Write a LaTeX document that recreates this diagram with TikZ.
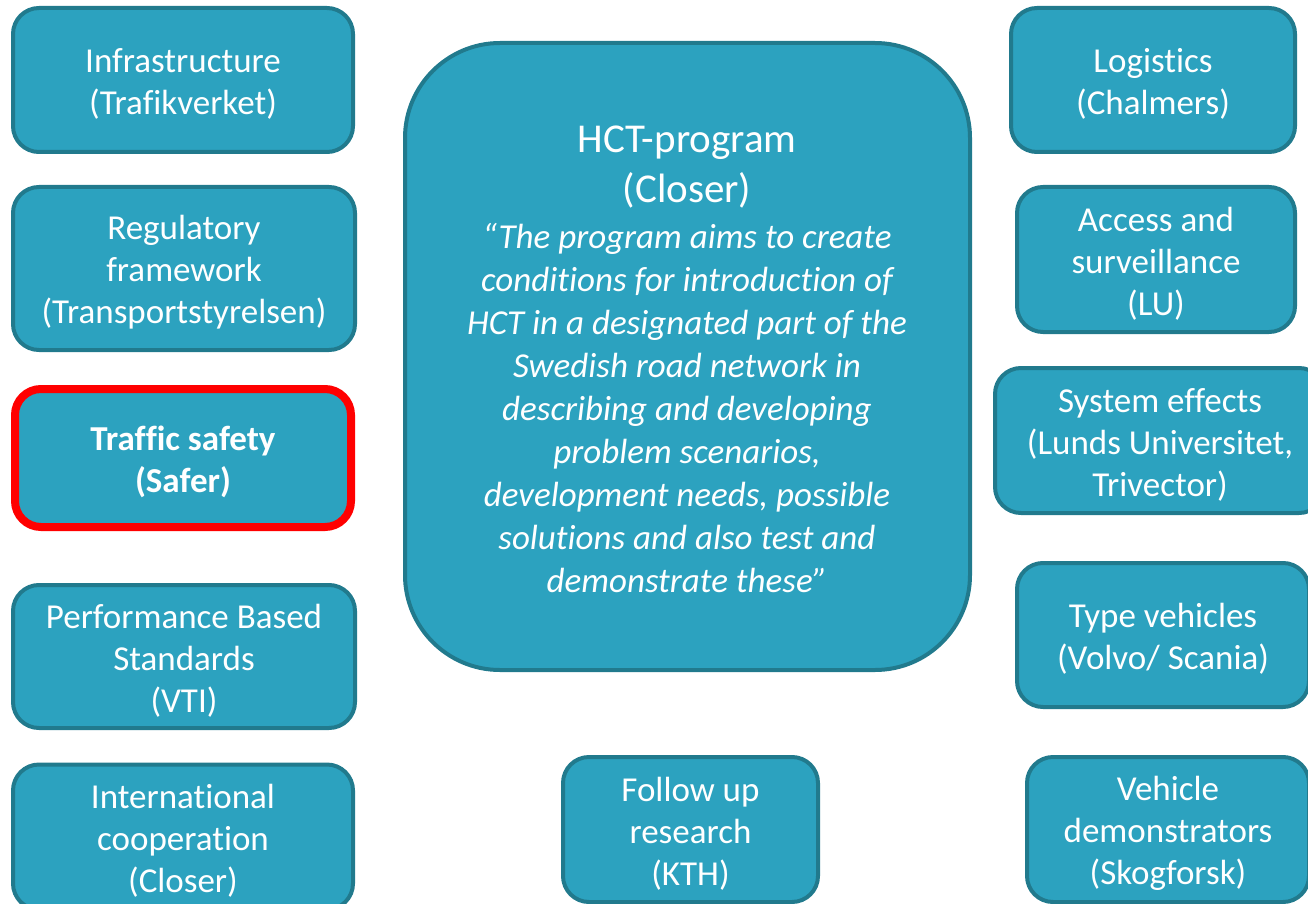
\documentclass[tikz,border=0pt]{standalone}
\usepackage{fontspec}
\setmainfont[Ligatures=NoCommon]{Carlito}
\definecolor{boxfill}{HTML}{2CA2BF}
\definecolor{boxline}{HTML}{217A8D}
\definecolor{hot}{HTML}{FF0000}
\begin{document}
\begin{tikzpicture}[x=1pt,y=-1pt,
  tile/.style={draw=boxline, fill=boxfill, line width=4pt, rounded corners=26pt, inner sep=0pt},
  tiletext/.style={text=white, align=center, inner sep=0pt, yshift=-4pt,
    font=\fontsize{35}{42}\selectfont},
  ]
\useasboundingbox (0,0) rectangle (1308,904);
% left column
\node[tile, minimum width=340pt, minimum height=144pt] (infra) at (183,80) {};
\node[tiletext] (infraT) at (infra) {Infrastructure\\(Trafikverket)};
\node[tile, minimum width=342pt, minimum height=163pt] (reg) at (184,268.5) {};
\node[tiletext] (regT) at (reg) {Regulatory\\framework\\(Transportstyrelsen)};
\node[tile, draw=hot, line width=8pt, minimum width=336pt, minimum height=138pt] (safety) at (183,458) {};
\node[tiletext, font=\fontsize{35}{42}\selectfont\bfseries] (safetyT) at (safety) {Traffic safety\\(Safer)};
\node[tile, minimum width=342pt, minimum height=143pt] (pbs) at (184,656.5) {};
\node[tiletext] (pbsT) at (pbs) {Performance Based\\Standards\\(VTI)};
\node[tile, minimum width=340pt, minimum height=145pt] (intl) at (183,837) {};
\node[tiletext] (intlT) at (intl) {International\\cooperation\\(Closer)};
% centre
\node[tile, rounded corners=95pt, minimum width=565pt, minimum height=627pt] (hct) at (687.5,356.5) {};
\node[text=white, align=center, inner sep=0pt, font=\fontsize{41}{50}\selectfont] (hcttitle) at (687,167)
  {HCT-program\\(Closer)};
\node[text=white, align=center, inner sep=0pt, font=\fontsize{35}{43}\selectfont\itshape] (hctbody) at (687,408)
  {“The program aims to create\\conditions for introduction of\\HCT in a designated part of the\\Swedish road network in\\describing and developing\\problem scenarios,\\development needs, possible\\solutions and also test and\\demonstrate these”};
\node[tile, minimum width=255pt, minimum height=145pt] (follow) at (690.5,829.5) {};
\node[tiletext] (followT) at (follow) {Follow up\\research\\(KTH)};
% right column
\node[tile, minimum width=284pt, minimum height=144pt] (logi) at (1153,80) {};
\node[tiletext] (logiT) at (logi) {Logistics\\(Chalmers)};
\node[tile, minimum width=278pt, minimum height=145pt] (access) at (1156,259.5) {};
\node[tiletext] (accessT) at (access) {Access and\\surveillance\\(LU)};
\node[tile, minimum width=330pt, minimum height=145pt] (sys) at (1160,440.5) {};
\node[tiletext] (sysT) at (sys) {System effects\\(Lunds Universitet,\\Trivector)};
\node[tile, minimum width=292pt, minimum height=144pt] (type) at (1163,635) {};
\node[tiletext] (typeT) at (type) {Type vehicles\\(Volvo/ Scania)};
\node[tile, minimum width=282pt, minimum height=145pt] (demo) at (1168,829.5) {};
\node[tiletext] (demoT) at (demo) {Vehicle\\demonstrators\\(Skogforsk)};
\end{tikzpicture}
\end{document}
